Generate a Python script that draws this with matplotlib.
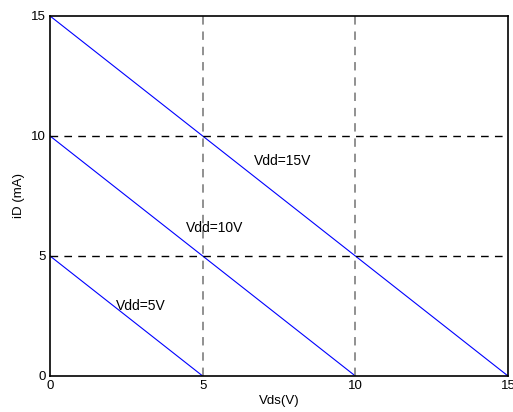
import matplotlib
matplotlib.use("Agg")
import matplotlib.pyplot as plt
import numpy as np

plt.rcParams['font.family'] = ['Liberation Sans', 'DejaVu Sans']

# supply voltages (V); each load line runs from (0, Vdd) to (Vdd, 0) with R = 1k
vdd = [5, 10, 15]
labels = ['Vdd=5V', 'Vdd=10V', 'Vdd=15V']
label_pos = [(2.16, 2.92), (4.45, 6.17), (6.68, 8.96)]
ticks = [0, 5, 10, 15]

fig = plt.figure(figsize=(5.13, 4.12), dpi=100)
ax = fig.add_axes([0.0975, 0.0874, 0.8928, 0.8738])

for v in vdd:
    ax.plot([0, v], [v, 0], color='blue', linewidth=0.8)

for (x, y), t in zip(label_pos, labels):
    ax.text(x, y, t, fontsize=10, ha='left', va='center')

ax.set_xlim(0, 15)
ax.set_ylim(0, 15)
ax.set_xticks(ticks)
ax.set_yticks(ticks)
ax.tick_params(direction='in', length=0, labelsize=9.5, pad=3)

for g in [5, 10]:
    ax.axvline(g, color='0.45', linewidth=1.1, dashes=(5.5, 4.5))
    ax.axhline(g, color='black', linewidth=1, dashes=(5.5, 4.5))

for s in ax.spines.values():
    s.set_linewidth(1.2)

ax.set_xlabel('Vds(V)', fontsize=9.5, labelpad=2)
ax.set_ylabel('iD (mA)', fontsize=9.5, labelpad=4)

fig.savefig('out.png', dpi=100)
